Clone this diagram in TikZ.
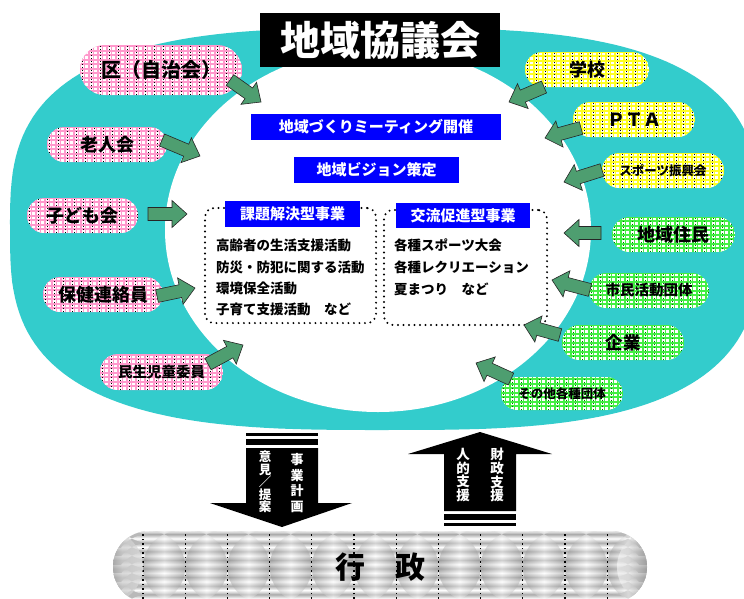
\documentclass[tikz,border=0pt]{standalone}
\usepackage{fontspec}
\setmainfont{Noto Sans CJK JP}
\usetikzlibrary{calc}
\definecolor{ringc}{HTML}{33CCCC}
\definecolor{garrowc}{HTML}{4E9E70}
\definecolor{pinkc}{HTML}{FF99CC}
\definecolor{yelc}{HTML}{FFFF22}
\definecolor{grnc}{HTML}{44EE44}
\definecolor{bluc}{HTML}{0000FF}
\newcommand\jf[1]{\bfseries\fontsize{#1}{#1}\selectfont}
\tikzset{
  pillpat/.style 2 args={path picture={
    \fill[#1] (path picture bounding box.south west) rectangle (path picture bounding box.north east);
    \foreach \k in {0,...,12}{\draw[white, line width=2.2] ([yshift={\k*4.5+1.5}]path picture bounding box.south west) -- ([yshift={\k*4.5+1.5}]path picture bounding box.south east);}
    \foreach \k in {0,...,36}{\draw[#1, line width=1.3] ([xshift={\k*4.5}]path picture bounding box.south west) -- ([xshift={\k*4.5}]path picture bounding box.north west);}
    \foreach \k in {0,...,18}{\draw[#2, line width=0.9, dash pattern=on 1.5 off 1.5] ([xshift={\k*9+2.25}]path picture bounding box.south west) -- ([xshift={\k*9+2.25}]path picture bounding box.north west);}
  }},
  pill/.style={inner sep=0, outer sep=0},
  bluebox/.style={fill=bluc, text=white, inner sep=0, font=\jf{15}},
  dotbox/.style={draw=black, line width=2.2, dash pattern=on 0pt off 5.5pt, line cap=round, rounded corners=9, inner sep=0},
  listtxt/.style={anchor=west, inner sep=0, font=\jf{13.5}},
  vtext/.style={align=center, inner sep=0, text=white},
  garrowstyle/.style={fill=garrowc, draw=black!85, line width=0.6, line join=miter},
}
\newcommand\garrow[2]{%
  \coordinate (#1h) at ($(#2)!15pt!(#1)$);
  \filldraw[garrowstyle] ($(#1)!6.5pt!90:(#2)$) -- ($(#1h)!6.5pt!90:(#2)$) -- ($(#1h)!13.5pt!90:(#2)$) -- (#2) -- ($(#1h)!13.5pt!-90:(#2)$) -- ($(#1h)!6.5pt!-90:(#2)$) -- ($(#1)!6.5pt!-90:(#2)$) -- cycle;}
\begin{document}
\begin{tikzpicture}[x=1pt,y=-1pt]
\useasboundingbox (0,0) rectangle (744,598);
\clip (0,0) rectangle (744,598);
\fill[white] (0,0) rectangle (744,598);
% ring
\fill[ringc] plot[domain=0.5:360.5, samples=181, variable=\t]
  ({385+375*sign(cos(\t))*pow(abs(cos(\t)),2/3)}, {229+201*sign(sin(\t))*pow(abs(sin(\t)),2/3)}) -- cycle;
\fill[white] (378,230) ellipse [x radius=213, y radius=182];
% title
\node[fill=black, text=white, minimum width=240, minimum height=54, inner sep=0, font=\jf{40}] (title) at (380,40) {地域協議会};
% blue boxes
\node[bluebox, minimum width=250, minimum height=26] (b1) at (376,127) {地域づくりミーティング開催};
\node[bluebox, minimum width=165, minimum height=26] (b2) at (376.5,170) {地域ビジョン策定};
% dotted boxes
\node[dotbox, minimum width=171, minimum height=115] (d1) at (290.5,265.5) {};
\node[dotbox, minimum width=163, minimum height=115] (d2) at (465.5,267.5) {};
\node[bluebox, minimum width=135, minimum height=26] (b3) at (292.5,214) {課題解決型事業};
\node[bluebox, minimum width=134, minimum height=25] (b4) at (463,215.5) {交流促進型事業};
\node[listtxt] (l1) at (216,245) {高齢者の生活支援活動};
\node[listtxt] (l2) at (216,267) {防災・防犯に関する活動};
\node[listtxt] (l3) at (216,288) {環境保全活動};
\node[listtxt] (l4) at (216,309) {子育て支援活動　など};
\node[listtxt] (r1) at (394,245) {各種スポーツ大会};
\node[listtxt] (r2) at (394,267) {各種レクリエーション};
\node[listtxt] (r3) at (394,289) {夏まつり　など};
% pills left
\node[pill, pillpat={pinkc}{black}, minimum width=162, minimum height=50, rounded corners=25, font=\jf{20}] (ku) at (161,70) {区（自治会）};
\node[pill, pillpat={pinkc}{black}, minimum width=120, minimum height=35, rounded corners=17.5, font=\jf{18}] (rojin) at (107,144.5) {老人会};
\node[pill, pillpat={pinkc}{black}, minimum width=111, minimum height=35, rounded corners=17.5, font=\jf{18}] (kodomo) at (82.5,215.5) {子ども会};
\node[pill, pillpat={pinkc}{black}, minimum width=120, minimum height=35, rounded corners=17.5, font=\jf{18}] (hoken) at (103,294.5) {保健連絡員};
\node[pill, pillpat={pinkc}{black}, minimum width=123, minimum height=36, rounded corners=18, font=\jf{14.5}] (minsei) at (161.5,372) {民生児童委員};
% pills right
\node[pill, pillpat={yelc}{black}, minimum width=124, minimum height=35, rounded corners=17.5, font=\jf{18}] (gakko) at (587,69.5) {学校};
\node[pill, pillpat={yelc}{black}, minimum width=122, minimum height=35, rounded corners=17.5, font=\jf{18}] (pta) at (634,119.5) {ＰＴＡ};
\node[pill, pillpat={yelc}{black}, minimum width=122, minimum height=35, rounded corners=17.5, font=\jf{12.5}] (sports) at (663,170.5) {スポーツ振興会};
\node[pill, pillpat={grnc}{green!45!black}, minimum width=123, minimum height=35, rounded corners=17.5, font=\jf{18}] (jumin) at (673.5,234.5) {地域住民};
\node[pill, pillpat={grnc}{green!45!black}, minimum width=120, minimum height=35, rounded corners=17.5, font=\jf{14.5}] (shimin) at (649,290.5) {市民活動団体};
\node[pill, pillpat={grnc}{green!45!black}, minimum width=122, minimum height=35, rounded corners=17.5, font=\jf{17.5}] (kigyo) at (623,342.5) {企業};
\node[pill, pillpat={grnc}{green!45!black}, minimum width=122, minimum height=33, rounded corners=16.5, font=\jf{12.5}] (sonota) at (562,393.5) {その他各種団体};
% green arrows
\coordinate (a1) at (230,80);   \coordinate (a1p) at (261,102); \garrow{a1}{a1p}
\coordinate (a2) at (162,140);  \coordinate (a2p) at (200,156); \garrow{a2}{a2p}
\coordinate (a3) at (148,214);  \coordinate (a3p) at (187,214); \garrow{a3}{a3p}
\coordinate (a4) at (157,296);  \coordinate (a4p) at (195,288); \garrow{a4}{a4p}
\coordinate (a5) at (208,364);  \coordinate (a5p) at (243,345); \garrow{a5}{a5p}
\coordinate (a6) at (544,87);   \coordinate (a6p) at (509,102); \garrow{a6}{a6p}
\coordinate (a7) at (581,128);  \coordinate (a7p) at (545,138); \garrow{a7}{a7p}
\coordinate (a8) at (602,170);  \coordinate (a8p) at (564,182); \garrow{a8}{a8p}
\coordinate (a9) at (601,233);  \coordinate (a9p) at (564,233); \garrow{a9}{a9p}
\coordinate (a10) at (590,290); \coordinate (a10p) at (552,280); \garrow{a10}{a10p}
\coordinate (a11) at (560,335); \coordinate (a11p) at (524,325); \garrow{a11}{a11p}
\coordinate (a12) at (511,379); \coordinate (a12p) at (476,363); \garrow{a12}{a12p}
% gray pill
\node[inner sep=0, minimum width=534, minimum height=72, rounded corners=36, font=\jf{30},
  path picture={
    \fill[gray!55] (path picture bounding box.south west) rectangle (path picture bounding box.north east);
    \foreach \r in {0,...,8}{\shade[top color=gray!65, bottom color=gray!65, middle color=white] ([yshift={\r*8.6}]path picture bounding box.south west) rectangle ([yshift={(\r+1)*8.6}]path picture bounding box.south east);}
    \foreach \c in {0,...,13}{\shade[left color=gray!90, right color=gray!90, middle color=white, opacity=0.45] ([xshift={-12.2+\c*42.2}]path picture bounding box.south west) rectangle ([xshift={30+\c*42.2}]path picture bounding box.north west);}
    \foreach \c in {0,...,12}{\draw[black, line width=1.3, dash pattern=on 1.5 off 3] ([xshift={30+\c*42.2}]path picture bounding box.south west) -- ([xshift={30+\c*42.2}]path picture bounding box.north west);}
    \shade[left color=gray!80, right color=white, opacity=0.5] (path picture bounding box.south west) rectangle ([xshift=30]path picture bounding box.north west);
    \shade[right color=gray!80, left color=white, opacity=0.5] ([xshift=-30]path picture bounding box.south east) rectangle (path picture bounding box.north east);
  }] (gyosei) at (380,567) {行　政};
% down arrow
\fill[black] (246,433) rectangle (318,436);
\fill[black] (246,439) rectangle (318,445);
\fill[black] (246,448) -- (318,448) -- (318,503) -- (352,503) -- (282,527) -- (210,503) -- (246,503) -- cycle;
\node[vtext, font=\bfseries\fontsize{12.5}{12.6}\selectfont] (v1) at (265,482) {意\\見\\／\\提\\案};
\node[vtext, font=\bfseries\fontsize{13}{15.6}\selectfont] (v2) at (297,483) {事\\業\\計\\画};
% up arrow
\fill[black] (480,432) -- (552,454) -- (516,454) -- (516,511) -- (444,511) -- (444,454) -- (408,454) -- cycle;
\fill[black] (444,514) rectangle (516,520);
\fill[black] (444,523) rectangle (516,526);
\node[vtext, font=\bfseries\fontsize{13.5}{13.8}\selectfont] (v3) at (463,475) {人\\的\\支\\援};
\node[vtext, font=\bfseries\fontsize{13.5}{13.8}\selectfont] (v4) at (497,475) {財\\政\\支\\援};
\end{tikzpicture}
\end{document}
